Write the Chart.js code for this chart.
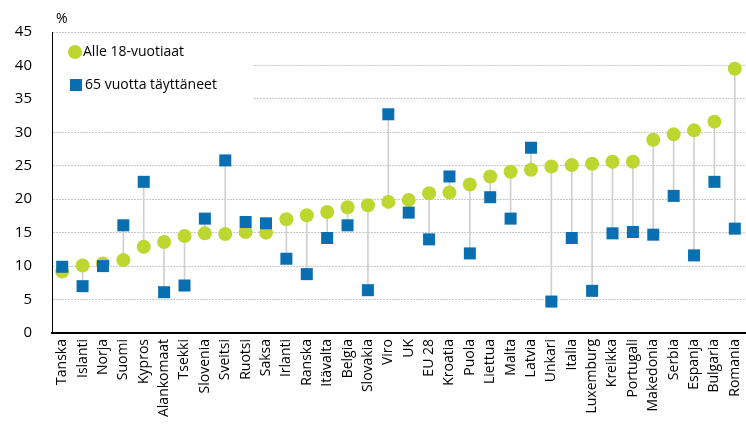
<!DOCTYPE html>
<html>
<head>
<meta charset="utf-8">
<script src="https://cdn.jsdelivr.net/npm/chart.js@4/dist/chart.umd.min.js"></script>
<style>
  html, body { margin: 0; padding: 0; background: #fff; }
  #wrap { width: 746px; height: 448px; }
</style>
</head>
<body>
<div id="wrap"><canvas id="kaavio" width="746" height="448"></canvas></div>
<script>
const maat = ['Tanska', 'Islanti', 'Norja', 'Suomi', 'Kypros', 'Alankomaat', 'Tsekki', 'Slovenia',
    'Sveitsi', 'Ruotsi', 'Saksa', 'Irlanti', 'Ranska', 'Itävalta', 'Belgia', 'Slovakia', 'Viro',
    'UK', 'EU 28', 'Kroatia', 'Puola', 'Liettua', 'Malta', 'Latvia', 'Unkari', 'Italia',
    'Luxemburg', 'Kreikka', 'Portugali', 'Makedonia', 'Serbia', 'Espanja', 'Bulgaria', 'Romania'];

const alle18 = [9.2, 10.1, 10.4, 10.9, 12.9, 13.6, 14.5, 14.9, 14.8, 15.1, 15.0, 17.0, 17.6, 18.1,
    18.8, 19.1, 19.6, 19.9, 20.9, 21.0, 22.2, 23.4, 24.1, 24.4, 24.9, 25.1, 25.3, 25.6, 25.6,
    28.9, 29.7, 30.3, 31.6, 39.5];

const yli65 = [9.9, 7.0, 10.0, 16.1, 22.6, 6.1, 7.1, 17.1, 25.8, 16.6, 16.4, 11.1, 8.8, 14.2,
    16.1, 6.4, 32.7, 18.0, 14.0, 23.4, 11.9, 20.3, 17.1, 27.7, 4.7, 14.2, 6.3, 14.9, 15.1,
    14.7, 20.5, 11.6, 22.6, 15.6];

const yTicks = [0, 5, 10, 15, 20, 25, 30, 35, 40, 45];

const vihrea = '#BDD630';
const sininen = '#0A6FB1';
const fontti = "'Open Sans', 'Liberation Sans', sans-serif";

// pystyviivat pisteiden välille
let valit = maat.map((m, i) => [Math.min(alle18[i], yli65[i]), Math.max(alle18[i], yli65[i])]);

const selite = {
    id: 'selite',
    afterDraw(chart) {
        let ctx = chart.ctx;
        let ca = chart.chartArea;
        ctx.save();
        ctx.fillStyle = '#fff';
        ctx.fillRect(ca.left + 1, ca.top + 8, 200, 68);
        ctx.fillStyle = vihrea;
        ctx.beginPath();
        ctx.arc(ca.left + 23, ca.top + 20, 7, 0, Math.PI * 2);
        ctx.fill();
        ctx.fillStyle = sininen;
        ctx.fillRect(ca.left + 18, ca.top + 47, 12, 12);
        ctx.fillStyle = '#000';
        ctx.font = '14px ' + fontti;
        ctx.textBaseline = 'middle';
        ctx.fillText('Alle 18-vuotiaat', ca.left + 31, ca.top + 20);
        ctx.fillText('65 vuotta täyttäneet', ca.left + 33, ca.top + 53);
        ctx.fillText('%', ca.left + 4, ca.top - 13);
        ctx.restore();
    }
};

let kaavio = new Chart(document.getElementById('kaavio'), {
    type: 'line',
    data: {
        labels: maat,
        datasets: [
            {
                label: '65 vuotta täyttäneet',
                data: yli65,
                showLine: false,
                clip: false,
                pointStyle: 'rect',
                pointRadius: 8.5,
                pointHoverRadius: 8.5,
                pointBackgroundColor: sininen,
                pointBorderColor: sininen,
                pointBorderWidth: 0,
                order: 0
            },
            {
                label: 'Alle 18-vuotiaat',
                data: alle18,
                showLine: false,
                clip: false,
                pointStyle: 'circle',
                pointRadius: 7,
                pointHoverRadius: 7,
                pointBackgroundColor: vihrea,
                pointBorderColor: vihrea,
                pointBorderWidth: 0,
                order: 1
            },
            {
                type: 'bar',
                label: 'väli',
                data: valit,
                backgroundColor: '#D0D0D0',
                barThickness: 1,
                order: 2
            }
        ]
    },
    options: {
        responsive: false,
        animation: false,
        layout: { padding: { top: 32, right: 1, left: 0, bottom: 0 } },
        plugins: {
            legend: { display: false },
            tooltip: { enabled: false }
        },
        scales: {
            x: {
                offset: true,
                grid: { display: false, drawTicks: false },
                border: { color: '#000', width: 2 },
                ticks: {
                    autoSkip: false,
                    minRotation: 90,
                    maxRotation: 90,
                    padding: 6,
                    color: '#000',
                    font: { family: fontti, size: 14 }
                },
                afterFit(scale) {
                    scale.height = 115;
                    scale.paddingLeft = 0;
                    scale.paddingRight = 0;
                }
            },
            y: {
                min: 0,
                max: 45,
                afterBuildTicks(scale) { scale.ticks = yTicks.map(v => ({ value: v })); },
                grid: {
                    color: '#C8C8C8',
                    drawTicks: false
                },
                border: { color: '#000', width: 1, dash: [2, 1] },
                ticks: {
                    padding: 20,
                    color: '#000',
                    font: { family: fontti, size: 15 }
                },
                afterFit(scale) { scale.width = 52; }
            }
        }
    },
    plugins: [selite]
});

// pisteiden koko ei saa kaventaa piirtoaluetta
[0, 1].forEach(i => { kaavio.getDatasetMeta(i).controller.getMaxOverflow = () => 0; });
kaavio.update();
</script>
</body>
</html>
